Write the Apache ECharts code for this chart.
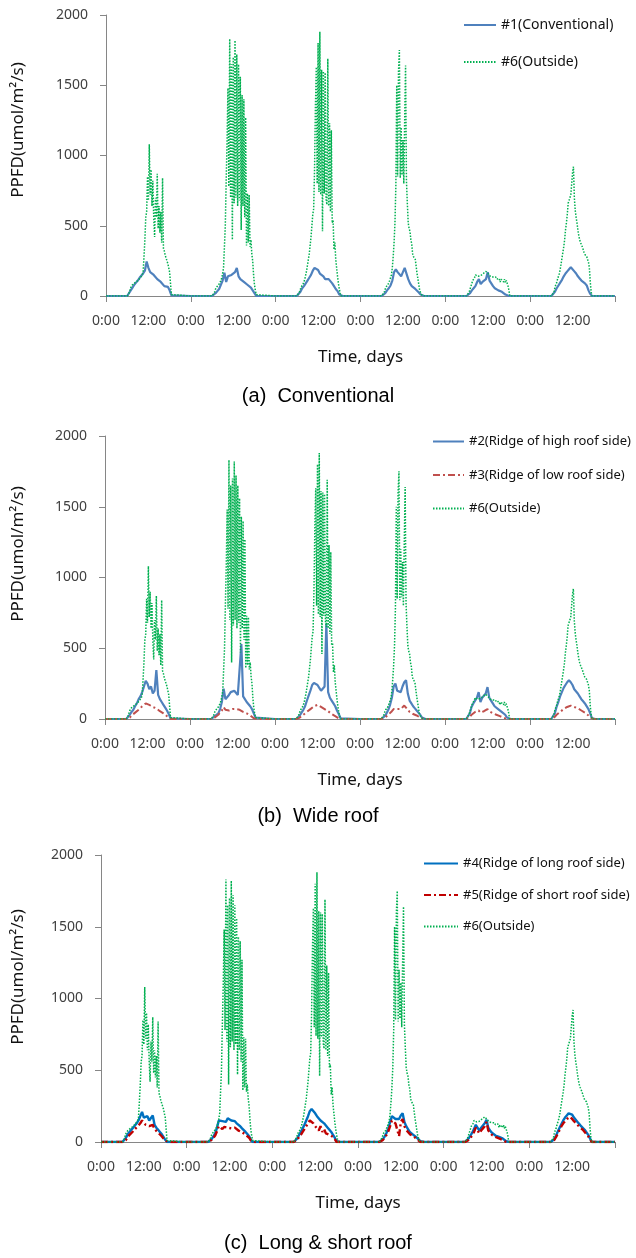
<!DOCTYPE html>
<html>
<head>
<meta charset="utf-8">
<script src="https://cdn.jsdelivr.net/npm/echarts@6/dist/echarts.min.js"></script>
<style>
  html, body { margin: 0; padding: 0; background: #fff; }
  #chart { width: 636px; height: 1258px; }
</style>
</head>
<body>
<div id="chart"></div>
<script>
// x axis: hours from the first midnight, 6 days
const dayTicks = [0, 24, 48, 72, 96, 120, 144];
const timeLabels = [0, 12, 24, 36, 48, 60, 72, 84, 96, 108, 120, 132];

// each day: values from 6:00 to 19:00, zero at night
const DAY_START = 6;

// #6 outside, 15 min steps (same sensor in all three panels)
const outside = [
  [0,5,20,40,60,70,80,85,90,95, 100,105,110,115,120,130,140,150,170,280, 400,560,600,850,680,1080,720,900,640,820, 560,420,700,560,870,480,640,450,600,380, 840,340,320,290,270,250,230,200,170,90, 10,0,0],
  [0,0,10,30,50,60,70,75,85,95, 110,130,160,200,350,500,820,1100,1480,780, 1830,700,1650,400,1700,660,1820,700,1720,640, 1650,680,1560,470,1430,640,1400,560,1270,360, 730,380,720,350,400,300,250,150,80,40, 10,0,0],
  [0,0,10,30,50,65,75,85,100,120, 150,180,220,260,300,360,420,500,580,620, 900,1350,1630,800,1800,740,1880,720,1610,460, 1600,730,1590,690,650,1690,640,1230,600,1180, 520,540,330,380,260,200,140,90,50,20, 0,0,0],
  [0,0,10,30,50,65,70,80,90,110, 130,150,200,280,380,520,780,1500,850,1600, 1750,840,1200,860,1110,800,1250,1640,820,660, 520,480,460,400,370,300,280,270,260,250, 160,120,80,40,25,10,5,0,0,0, 0,0,0],
  [0,0,10,30,50,70,90,110,120,130, 150,160,150,140,130,140,145,150,155,160, 165,170,175,185,170,155,145,140,145,140, 135,140,130,135,120,130,110,125,100,120, 110,125,100,120,95,110,90,70,40,0, 0,0,0],
  [0,0,5,30,60,80,95,120,140,160, 190,230,270,310,350,400,470,520,580,660, 680,690,720,800,880,920,700,610,560,520, 470,430,400,380,370,350,330,310,295,285, 280,260,240,200,100,30,0,0,0,0, 0,0,0]
];

// inside sensors, 30 min steps
const conventional = [
  [0,10,40,60,80,95,110,130,140,160, 180,245,200,170,175,150,140,120,125,100, 90,70,60,65,40,5,0],
  [0,5,20,35,50,80,110,165,100,140, 130,150,140,170,200,140,120,110,100,95, 80,75,60,50,20,0,0],
  [0,10,30,55,70,90,110,130,150,180, 200,210,185,160,150,140,120,110,120,115, 90,70,50,35,10,0,0],
  [0,5,20,40,55,75,110,170,190,170, 180,140,130,200,190,120,90,70,60,50, 40,25,10,0,0,0,0],
  [0,5,20,40,55,70,100,120,85,100, 110,120,170,110,90,70,55,50,40,45, 30,20,10,0,0,0,0],
  [0,5,30,55,75,95,115,140,160,175, 190,205,200,175,160,140,125,110,100,90, 75,40,15,0,0,0,0]
];
const highRidge = [
  [0,5,30,50,65,90,110,140,160,190, 230,270,250,210,230,180,200,345,170,140, 120,100,80,60,35,5,0],
  [0,5,20,30,40,70,120,215,140,150, 170,190,180,200,190,170,180,530,160,140, 120,110,90,70,40,10,0],
  [0,5,25,45,65,90,130,165,200,240, 255,265,240,220,200,210,230,675,190,150, 130,110,90,60,35,5,0],
  [0,5,20,40,65,100,150,230,250,200, 210,190,230,260,275,180,130,110,90,75, 60,45,30,10,0,0,0],
  [0,5,40,85,110,130,150,190,120,150, 160,180,225,150,130,110,90,80,70,60, 50,40,30,10,0,0,0],
  [0,5,40,85,120,160,190,220,240,260, 275,260,240,210,200,180,160,140,125,110, 100,70,40,5,0,0,0]
];
const lowRidge = [
  [0,0,10,25,35,45,55,65,75,90, 100,110,105,100,90,85,80,75,65,55, 50,40,30,20,10,0,0],
  [0,0,10,20,30,45,60,85,65,70, 60,65,70,65,70,60,65,55,50,45, 40,35,25,20,5,0,0],
  [0,0,10,20,30,40,50,60,70,80, 90,95,100,90,85,75,70,65,55,45, 35,30,20,15,5,0,0],
  [0,0,10,20,30,40,55,70,75,70, 65,70,80,95,90,65,50,40,35,30, 25,15,10,0,0,0,0],
  [0,0,15,30,40,50,55,60,45,50, 55,60,70,55,45,40,35,30,25,20, 15,10,5,0,0,0,0],
  [0,0,15,30,40,50,60,70,80,85, 90,95,90,85,80,75,65,60,55,45, 40,25,10,0,0,0,0]
];
const longRidge = [
  [0,5,30,55,70,85,100,115,130,150, 180,210,170,160,180,150,140,185,120,100, 85,70,55,35,15,0,0],
  [0,0,20,40,60,100,150,160,145,150, 140,165,160,150,140,145,130,120,110,95, 85,70,55,40,15,0,0],
  [0,5,25,50,70,95,120,150,180,215, 230,220,200,180,170,150,140,130,115,100, 85,70,50,30,5,0,0],
  [0,0,20,40,65,95,140,180,185,160, 170,160,185,200,140,110,90,70,60,50, 40,30,20,5,0,0,0],
  [0,5,25,45,65,90,120,130,80,100, 110,130,155,100,80,65,55,45,40,35, 30,25,15,5,0,0,0],
  [0,0,20,45,75,100,125,150,170,185, 200,210,190,170,160,140,125,110,100,85, 75,50,25,0,0,0,0]
];
const shortRidge = [
  [0,0,15,35,50,60,75,90,100,115, 130,150,140,120,130,110,105,120,90,80, 65,55,40,25,10,0,0],
  [0,0,15,30,45,75,110,100,90,105, 95,100,110,95,85,100,90,80,85,70, 60,50,40,30,10,0,0],
  [0,0,15,35,50,70,90,110,130,150, 140,130,110,120,80,110,70,90,60,70, 50,45,35,20,0,0,0],
  [0,0,15,30,50,75,110,150,160,130, 120,40,140,160,110,85,70,55,45,40, 30,20,10,0,0,0,0],
  [0,0,15,30,45,70,100,110,60,80, 95,110,140,80,65,50,45,35,30,25, 20,15,10,0,0,0,0],
  [0,0,15,35,60,85,110,130,145,160, 170,175,160,145,135,120,105,95,85,70, 60,40,20,0,0,0,0]
];

const panelTitles = ['(a)  Conventional', '(b)  Wide roof', '(c)  Long & short roof'];

function toPoints(days, step) {
  const pts = [];
  days.forEach(function (vals, d) {
    pts.push([d * 24, 0]);
    vals.forEach(function (v, i) {
      pts.push([d * 24 + DAY_START + i * step, v]);
    });
  });
  pts.push([144, 0]);
  return pts;
}

const FONT = 'Noto Sans';
const AXIS_GRAY = '#868686';

const grids = [
  { left: 106, top: 15, width: 509, height: 281 },
  { left: 105, top: 436, width: 510, height: 283 },
  { left: 101, top: 855, width: 514, height: 287 }
];

function makeX(i) {
  return {
    type: 'value', gridIndex: i, min: 0, max: 144, interval: 12,
    axisLine: { lineStyle: { color: AXIS_GRAY } },
    axisTick: { show: true, customValues: dayTicks, length: 6, lineStyle: { color: AXIS_GRAY } },
    axisLabel: {
      customValues: timeLabels,
      formatter: function (v) { return v % 24 === 0 ? '0:00' : '12:00'; },
      margin: 18, color: '#404040', fontSize: 14, fontFamily: FONT
    },
    splitLine: { show: false },
    name: 'Time, days', nameLocation: 'middle', nameGap: 53,
    nameTextStyle: { color: '#111', fontSize: 17, fontFamily: FONT }
  };
}
function makeY(i) {
  return {
    type: 'value', gridIndex: i, min: 0, max: 2000, interval: 500,
    axisLine: { show: true, lineStyle: { color: AXIS_GRAY } },
    axisTick: { show: true, length: 6, lineStyle: { color: AXIS_GRAY } },
    axisLabel: {
      margin: 18, color: '#404040', fontSize: 14, fontFamily: FONT,
      formatter: function (v) { return String(v); }
    },
    splitLine: { show: false }
  };
}

function line(name, data, i, color, type, width) {
  return {
    name: name, type: 'line', xAxisIndex: i, yAxisIndex: i,
    data: data, symbol: 'none', showSymbol: false,
    lineStyle: { color: color, type: type, width: width },
    itemStyle: { color: color },
    emphasis: { disabled: true }
  };
}

const outsidePts = toPoints(outside, 0.25);
const GREEN = '#00B050';
const dots = [1.5, 1.5];
const dashDot = [7, 3, 2, 3];

const series = [
  line('#1(Conventional)', toPoints(conventional, 0.5), 0, '#4F81BD', 'solid', 2.2),
  line('#6(Outside)', outsidePts, 0, GREEN, dots, 1.5),
  line('#2(Ridge of high roof side)', toPoints(highRidge, 0.5), 1, '#4F81BD', 'solid', 2.2),
  line('#3(Ridge of low roof side)', toPoints(lowRidge, 0.5), 1, '#C0504D', dashDot, 2),
  line('#6(Outside)', outsidePts, 1, GREEN, dots, 1.5),
  line('#4(Ridge of long roof side)', toPoints(longRidge, 0.5), 2, '#0070C0', 'solid', 2.4),
  line('#5(Ridge of short roof side)', toPoints(shortRidge, 0.5), 2, '#C00000', dashDot, 2.4),
  line('#6(Outside)', outsidePts, 2, GREEN, dots, 1.5)
];

function legend(names, left, top, gap, size, w) {
  return {
    data: names, orient: 'vertical', left: left, top: top, padding: 0,
    itemWidth: w, itemHeight: 14, itemGap: gap, selectedMode: false,
    itemStyle: { opacity: 0 },
    textStyle: { color: '#111', fontSize: size, fontFamily: FONT }
  };
}

const titleY = [398, 818, 1245];
const nameY = [130, 554, 977];
const graphics = [];
panelTitles.forEach(function (t, i) {
  graphics.push({
    type: 'text', left: 'center', top: titleY[i] - 12,
    style: { text: t, font: '20px "Liberation Sans", Arial, sans-serif', fill: '#000' }
  });
  graphics.push({
    type: 'text', x: 18, y: nameY[i], rotation: Math.PI / 2,
    style: { text: 'PPFD(umol/m²/s)', font: '17px "Noto Sans"', fill: '#111', align: 'center', verticalAlign: 'middle' }
  });
});

const chart = echarts.init(document.getElementById('chart'));
chart.setOption({
  animation: false,
  backgroundColor: '#fff',
  grid: grids,
  xAxis: [makeX(0), makeX(1), makeX(2)],
  yAxis: [makeY(0), makeY(1), makeY(2)],
  legend: [
    legend(['#1(Conventional)', '#6(Outside)'], 463, 18, 23, 14, 32),
    legend(['#2(Ridge of high roof side)', '#3(Ridge of low roof side)', '#6(Outside)'], 432, 435, 20.5, 13, 31),
    legend(['#4(Ridge of long roof side)', '#5(Ridge of short roof side)', '#6(Outside)'], 423, 857, 18.5, 13, 34)
  ],
  graphic: graphics,
  series: series
});
</script>
</body>
</html>
